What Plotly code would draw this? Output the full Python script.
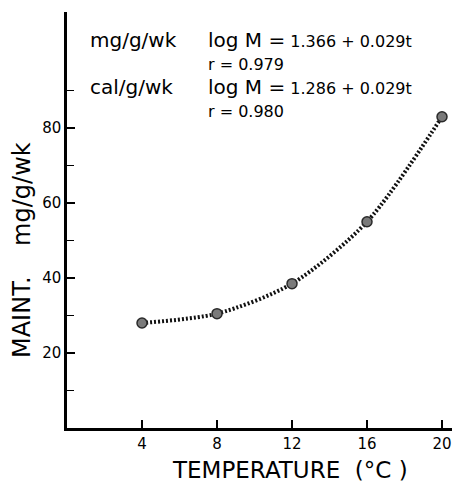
import plotly.graph_objects as go

# Data
temperature = [4, 8, 12, 16, 20]
maint = [28, 30.5, 38.5, 55, 83]
x_ticks = [4, 8, 12, 16, 20]
y_ticks = [20, 40, 60, 80]

FONT = "DejaVu Sans"

# Plot area in pixels (for annotation placement)
W, H = 453, 486
L, R, T, B = 67, 1, 12, 58
PW, PH = W - L - R, H - T - B


def px(xp):
    return (xp - L) / PW


def py(yp):
    return (H - B - yp) / PH


fig = go.Figure()
fig.add_trace(go.Scatter(
    x=temperature, y=maint, mode="lines",
    line=dict(color="#111111", width=4, dash="2px,2px", shape="spline", smoothing=0.8),
    hoverinfo="skip", showlegend=False,
))
fig.add_trace(go.Scatter(
    x=temperature, y=maint, mode="markers",
    marker=dict(size=10, color="#7a7a7a", line=dict(color="#2a2a2a", width=1.5)),
    showlegend=False,
))

fig.update_xaxes(
    range=[0, PW / 18.75], showgrid=False, zeroline=False,
    showline=True, linecolor="black", linewidth=2.5,
    tickmode="array", tickvals=x_ticks, ticktext=[str(v) for v in x_ticks],
    ticks="inside", ticklen=8, tickwidth=1.5, tickcolor="black",
    tickfont=dict(family=FONT, size=15, color="black"),
)
fig.update_yaxes(
    range=[0, PH / 3.75], showgrid=False, zeroline=False,
    showline=True, linecolor="black", linewidth=2.5,
    tickmode="array", tickvals=y_ticks, ticktext=[str(v) for v in y_ticks],
    ticks="inside", ticklen=8, tickwidth=1.5, tickcolor="black",
    tickfont=dict(family=FONT, size=15, color="black"),
    minor=dict(tickmode="array", tickvals=[10, 30, 50, 70, 90], ticks="inside", ticklen=7,
               tickwidth=1.2, tickcolor="black", showgrid=False),
)

# Axis titles (placed as annotations to match the original offsets)
fig.add_annotation(text="MAINT.    mg/g/wk", textangle=-90, x=px(22), y=py(250),
                   xref="paper", yref="paper", xanchor="center", yanchor="middle",
                   showarrow=False, font=dict(family=FONT, size=24, color="black"))
fig.add_annotation(text="TEMPERATURE  (°C )", x=px(290), y=py(470),
                   xref="paper", yref="paper", xanchor="center", yanchor="middle",
                   showarrow=False, font=dict(family=FONT, size=23, color="black"))

ann_font = dict(family=FONT, size=20, color="black")
small = "font-size:16px"
annotations = [
    dict(text="mg/g/wk", x=px(89), y=py(40)),
    dict(text=f"log M =<span style='{small}'> 1.366 + 0.029t</span>", x=px(207), y=py(40)),
    dict(text=f"<span style='{small}'>r = 0.979</span>", x=px(207), y=py(64)),
    dict(text="cal/g/wk", x=px(89), y=py(87)),
    dict(text=f"log M =<span style='{small}'> 1.286 + 0.029t</span>", x=px(207), y=py(87)),
    dict(text=f"<span style='{small}'>r = 0.980</span>", x=px(207), y=py(111)),
]
for a in annotations:
    fig.add_annotation(xref="paper", yref="paper", xanchor="left", yanchor="middle",
                       showarrow=False, font=ann_font, borderpad=0, **a)

fig.update_layout(
    width=W, height=H,
    margin=dict(l=L, r=R, t=T, b=B),
    paper_bgcolor="white", plot_bgcolor="white",
)

fig.write_html("out.html")
